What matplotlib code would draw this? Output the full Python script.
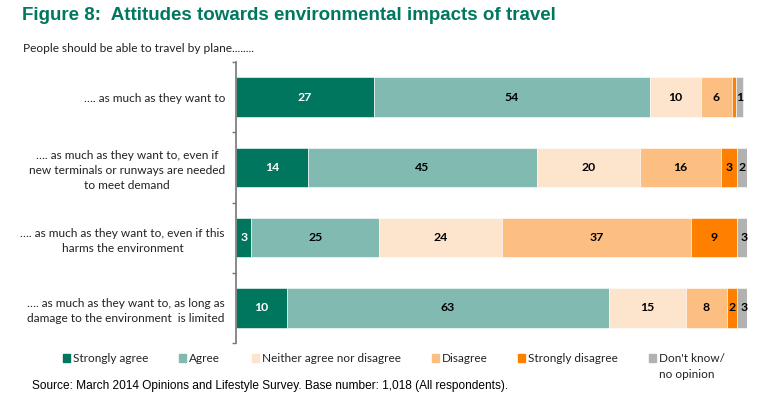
import numpy as np
import matplotlib
matplotlib.use("Agg")
import matplotlib.pyplot as plt
from matplotlib.patches import Rectangle

# survey data (percent)
questions = [
    "\u2026. as much as they want to",
    "\u2026. as much as they want to, even if\nnew terminals or runways are needed\nto meet demand",
    "\u2026. as much as they want to, even if this\nharms the environment",
    "\u2026. as much as they want to, as long as\ndamage to the environment  is limited",
]
strongly_agree = [27, 14, 3, 10]
agree = [54, 45, 25, 63]
neither = [10, 20, 24, 15]
disagree = [6, 16, 37, 8]
strongly_disagree = [0.8, 3, 9, 2]
dont_know = [1.4, 2, 3, 3]

series_names = ["Strongly agree", "Agree", "Neither agree nor disagree",
                "Disagree", "Strongly disagree", "Don't know/\nno opinion"]
colors = ["#00765F", "#80BAB0", "#FDE4CD", "#FDBE82", "#FF8000", "#B2B2B2"]
text_colors = ["white", "black", "black", "black", "black", "black"]

series = [strongly_agree, agree, neither, disagree, strongly_disagree, dont_know]

fig = plt.figure(figsize=(7.72, 3.96), dpi=100)
ax = fig.add_axes([236/772, 1-343/396, (747-236)/772, (343-62)/396])

y = np.arange(len(questions))
left = np.zeros(len(questions))
for vals, col, tcol in zip(series, colors, text_colors):
    vals = np.array(vals, dtype=float)
    ax.barh(y, vals, left=left, height=0.56, color=col, edgecolor="white", linewidth=0.4)
    for yi, (l, v) in enumerate(zip(left, vals)):
        if v >= 1:
            ax.text(l + v/2, yi, f"{round(v)}", ha="center", va="center",
                    color=tcol, fontsize=8.8, fontweight="bold", family="Lato")
    left += vals

ax.set_xlim(0, 100)
ax.set_ylim(len(questions) - 0.5, -0.5)
ax.set_yticks(y)
ax.set_yticklabels(questions, fontsize=8.6, family="Lato", color="#222222")
for lab in ax.get_yticklabels():
    lab.set_multialignment("center")
    lab.set_linespacing(1.45)
ax.tick_params(axis="y", which="major", length=0, pad=8)
ax.set_yticks(np.arange(-0.5, len(questions)), minor=True)
ax.tick_params(axis="y", which="minor", length=3, color="#777777", width=1)
ax.set_xticks([])
for s in ["top", "right", "bottom"]:
    ax.spines[s].set_visible(False)
ax.spines["left"].set_color("#777777")
ax.spines["left"].set_linewidth(1.2)

fig.text(22/772, 1-16/396, "Figure 8:  Attitudes towards environmental impacts of travel",
         fontsize=13.5, fontweight="bold", color="#00785F", family="Liberation Sans",
         va="center", ha="left")
fig.text(23/772, 1-49/396, "People should be able to travel by plane........",
         fontsize=8.6, family="Lato", color="#222222", va="center", ha="left")

# legend, hand placed
leg_x = [63, 179, 252, 432, 518, 649]
for xp, col, name in zip(leg_x, colors, series_names):
    fig.patches.append(Rectangle((xp/772, 1-362/396), 7/772, 8/396,
                                 transform=fig.transFigure, color=col))
    if "\n" in name:
        fig.text((xp+10)/772, 1-353/396, name, fontsize=8.5, family="Lato",
                 color="#222222", va="top", ha="left", linespacing=1.5)
    else:
        fig.text((xp+10)/772, 1-358/396, name, fontsize=8.5, family="Lato",
                 color="#222222", va="center", ha="left")

fig.text(32/772, 1-386/396,
         "Source: March 2014 Opinions and Lifestyle Survey. Base number: 1,018 (All respondents).",
         fontsize=8.6, family="Liberation Sans", color="black", va="center", ha="left")

fig.savefig("out.png", dpi=100)
